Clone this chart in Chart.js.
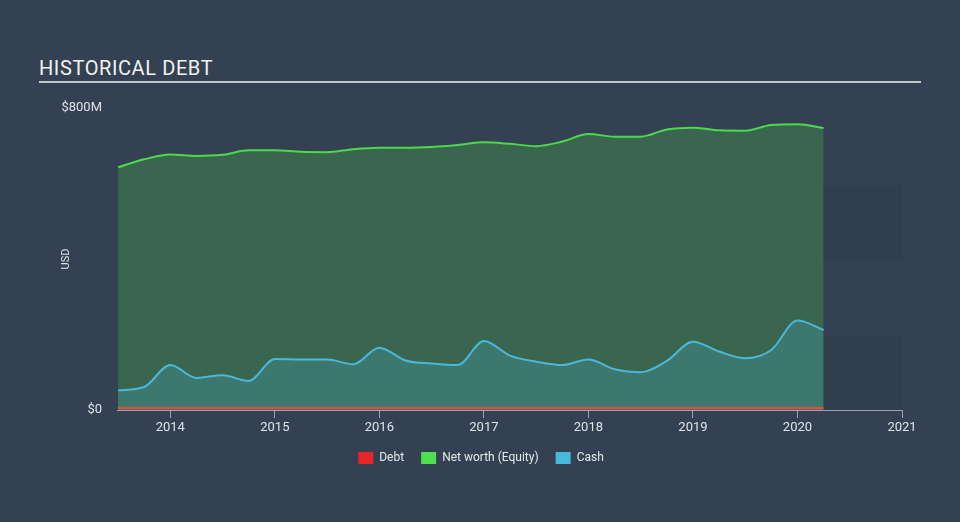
<!DOCTYPE html>
<html>
<head>
<meta charset="utf-8">
<script src="https://cdn.jsdelivr.net/npm/chart.js@4/dist/chart.umd.min.js"></script>
<style>
  html, body { margin: 0; padding: 0; background: #344152; }
  #wrap { position: relative; width: 960px; height: 522px; overflow: hidden; }
  #title { position: absolute; left: 39px; top: 56px; color: #f2f2f2; font: 20px Roboto, sans-serif; letter-spacing: 0.6px; }
  #rule { position: absolute; left: 39px; top: 81px; width: 882px; height: 2px; background: #c3c7cc; }
  canvas { position: absolute; left: 0; top: 0; }
</style>
</head>
<body>
<div id="wrap">
  <div id="title">HISTORICAL DEBT</div>
  <div id="rule"></div>
  <canvas id="debtChart" width="960" height="522"></canvas>
</div>
<script>
// quarter dates (decimal years)
const dates = [2013.5, 2013.75, 2014.0, 2014.25, 2014.5, 2014.75, 2015.0, 2015.25, 2015.5, 2015.75,
  2016.0, 2016.25, 2016.5, 2016.75, 2017.0, 2017.25, 2017.5, 2017.75, 2018.0, 2018.25,
  2018.5, 2018.75, 2019.0, 2019.25, 2019.5, 2019.75, 2020.0, 2020.25];

// values in $M
const debt = [5, 5, 5, 5, 5, 5, 5, 5, 5, 5, 5, 5, 5, 5, 5, 5, 5, 5, 5, 5, 5, 5, 5, 5, 5, 5, 5, 5];
const equity = [643, 664, 677, 673, 676, 688, 688, 684, 683, 691, 695, 695, 697, 702, 709, 705,
  699, 711, 731, 724, 724, 743, 748, 741, 740, 755, 757, 747];
const cash = [52, 61, 119, 85, 92, 77, 135, 134, 134, 121, 165, 131, 123, 119, 183, 144,
  128, 119, 134, 108, 100, 130, 181, 155, 137, 159, 237, 212];

const yTicks = [0, 800];
const xTicks = [2014, 2015, 2016, 2017, 2018, 2019, 2020, 2021];

const toPoints = arr => arr.map((v, i) => ({ x: dates[i], y: v }));

// faint bands to the right of the last data point
const bandPlugin = {
  id: 'bands',
  beforeDatasetsDraw(chart) {
    const { ctx, scales: { x, y } } = chart;
    const x0 = x.getPixelForValue(dates[dates.length - 1]);
    const x1 = x.getPixelForValue(2021);
    ctx.save();
    ctx.fillStyle = 'rgba(30,38,50,0.12)';
    [[400, 595], [0, 195]].forEach(([lo, hi]) => {
      const top = y.getPixelForValue(hi);
      const bot = y.getPixelForValue(lo);
      ctx.fillRect(x0, top, x1 - x0, bot - top);
    });
    ctx.restore();
  }
};

const solid = ['#e8262a', '#4fe04f', '#4ab8dc'];

new Chart(document.getElementById('debtChart'), {
  type: 'line',
  data: {
    datasets: [
      {
        label: 'Debt',
        data: toPoints(debt),
        borderColor: '#e0503a',
        backgroundColor: 'rgba(232,38,42,0.3)',
        borderWidth: 2,
        fill: 'origin',
        order: 0
      },
      {
        label: 'Net worth (Equity)',
        data: toPoints(equity),
        borderColor: '#4cd94c',
        backgroundColor: 'rgba(76,217,76,0.25)',
        borderWidth: 2,
        fill: 'origin',
        order: 2
      },
      {
        label: 'Cash',
        data: toPoints(cash),
        borderColor: '#4ab8dc',
        backgroundColor: 'rgba(74,184,220,0.22)',
        borderWidth: 2,
        fill: 'origin',
        order: 1
      }
    ]
  },
  options: {
    responsive: false,
    animation: false,
    elements: { point: { radius: 0 }, line: { cubicInterpolationMode: 'monotone' } },
    layout: { padding: { left: 60, right: 58, top: 108, bottom: 48 } },
    scales: {
      x: {
        type: 'linear',
        min: 2013.49,
        max: 2021,
        afterBuildTicks: scale => { scale.ticks = xTicks.map(v => ({ value: v })); },
        afterFit: scale => { scale.height = 25; },
        grid: { drawOnChartArea: false, color: '#9aa5b1', tickLength: 8 },
        border: { color: '#9aa5b1', width: 1 },
        ticks: {
          color: '#dfe3e8',
          font: { family: 'Roboto', size: 13 },
          padding: 2,
          maxRotation: 0,
          callback: v => String(v)
        }
      },
      y: {
        min: 0,
        max: 800,
        afterBuildTicks: scale => { scale.ticks = yTicks.map(v => ({ value: v })); },
        afterFit: scale => { scale.width = 57; },
        grid: { display: false },
        border: { display: false },
        title: {
          display: true,
          text: 'USD',
          color: '#dfe3e8',
          font: { family: 'Roboto', size: 11 },
          padding: 0
        },
        ticks: {
          color: '#dfe3e8',
          font: { family: 'Roboto', size: 13 },
          padding: 7,
          callback: v => v === 0 ? '$0' : '$' + v + 'M'
        }
      }
    },
    plugins: {
      legend: {
        position: 'bottom',
        labels: {
          color: '#e6e9ec',
          font: { family: 'Roboto', size: 12 },
          boxWidth: 15,
          boxHeight: 12,
          padding: 17,
          generateLabels: chart => chart.data.datasets.map((ds, i) => ({
            text: ds.label,
            fillStyle: solid[i],
            strokeStyle: solid[i],
            lineWidth: 0,
            fontColor: '#e6e9ec',
            datasetIndex: i
          }))
        }
      },
      tooltip: { enabled: false }
    }
  },
  plugins: [bandPlugin]
});
</script>
</body>
</html>
